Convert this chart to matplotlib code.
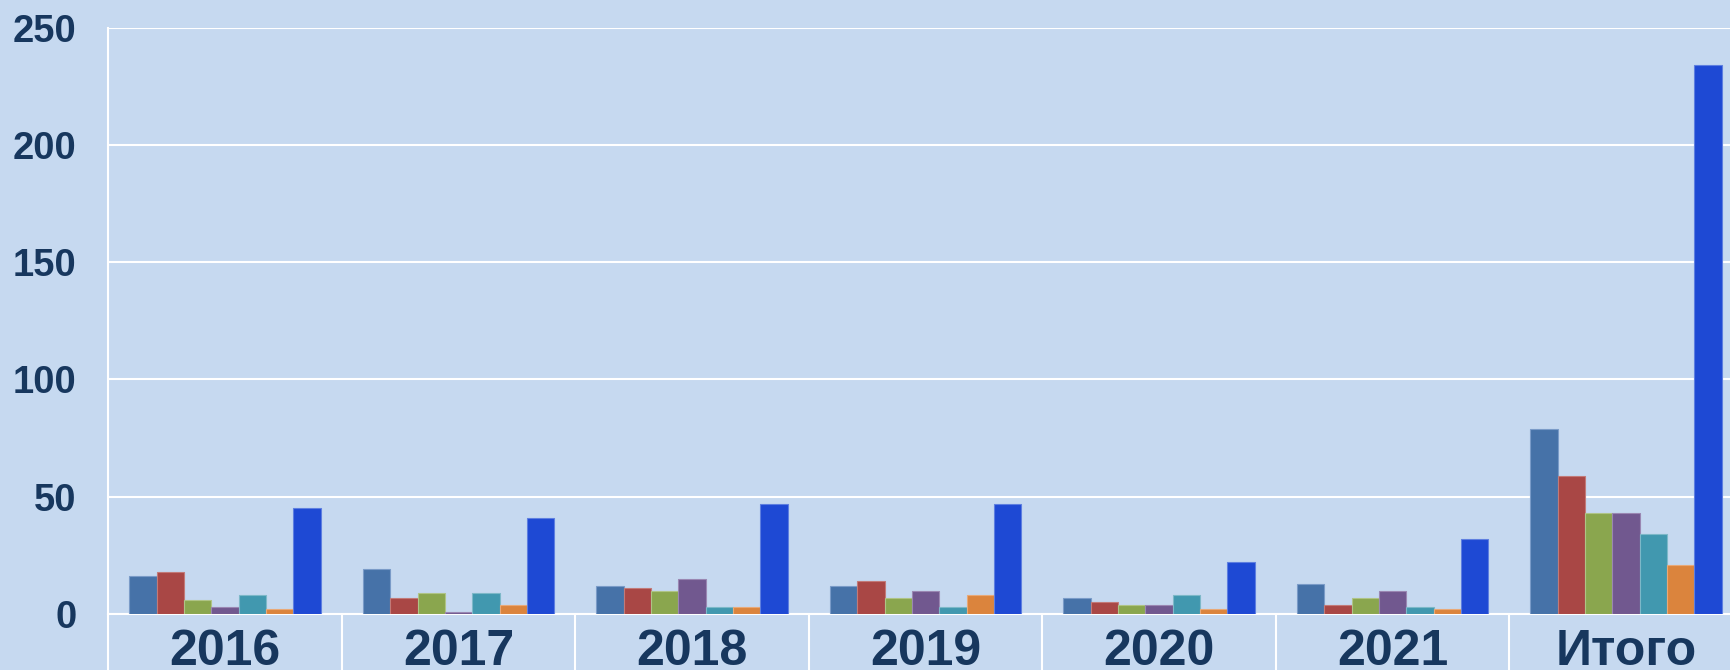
import matplotlib.pyplot as plt
import numpy as np

plt.rcParams['font.family'] = ['Liberation Sans', 'DejaVu Sans']
plt.rcParams['font.weight'] = 'bold'

categories = ['2016', '2017', '2018', '2019', '2020', '2021', 'Итого']

# seven series per category, left to right
s1 = [16, 19, 12, 12, 7, 13, 79]
s2 = [18, 7, 11, 14, 5, 4, 59]
s3 = [6, 9, 10, 7, 4, 7, 43]
s4 = [3, 1, 15, 10, 4, 10, 43]
s5 = [8, 9, 3, 3, 8, 3, 34]
s6 = [2, 4, 3, 8, 2, 2, 21]
s7 = [45, 41, 47, 47, 22, 32, 234]

series = [s1, s2, s3, s4, s5, s6, s7]
colors = ['#4672A8', '#A94745', '#8AA64E', '#71588F', '#4198AF', '#DB843D', '#1E49D4']
edges = ['#7A9BC8', '#C27A78', '#AFC486', '#9A87B2', '#7DB8C8', '#E8A978', '#5E7FE0']

bg = '#C6D9F0'
txt = '#17375E'

fig = plt.figure(figsize=(17.31, 6.70), dpi=100, facecolor=bg)
ax = fig.add_axes([108.3 / 1731, 56 / 670, 1634.5 / 1731, 586.3 / 670])
ax.set_facecolor(bg)

x = np.arange(len(categories))
w = 0.117
for i, (vals, c, ec) in enumerate(zip(series, colors, edges)):
    ax.bar(x + (i - 3) * w, vals, width=w, color=c, edgecolor=ec, linewidth=0.8, zorder=3)

ax.set_xlim(-0.5, len(categories) - 0.5)
ax.set_ylim(0, 250)
ax.set_yticks(np.arange(0, 251, 50))
ax.yaxis.grid(True, color='white', linewidth=1.5, zorder=1)
ax.set_axisbelow(True)

# category separators as long white ticks below the axis
ax.set_xticks(np.arange(len(categories) + 1) - 0.5)
ax.set_xticklabels([])
ax.tick_params(axis='x', which='major', length=60, width=1.5, color='white', direction='out')
ax.set_xticks(x, minor=True)
ax.set_xticklabels(categories, minor=True)
ax.tick_params(axis='x', which='minor', length=0, pad=11, labelsize=36, labelcolor=txt)

ax.tick_params(axis='y', length=0, pad=23, labelsize=27.5, labelcolor=txt)
for lab in ax.get_yticklabels() + ax.get_xticklabels(minor=True):
    lab.set_fontweight('bold')

for side in ['top', 'right']:
    ax.spines[side].set_visible(False)
ax.spines['bottom'].set_color('white')
ax.spines['bottom'].set_linewidth(1.5)
ax.spines['left'].set_color('white')
ax.spines['left'].set_linewidth(1.5)

fig.savefig('out.png', dpi=100, facecolor=bg)
